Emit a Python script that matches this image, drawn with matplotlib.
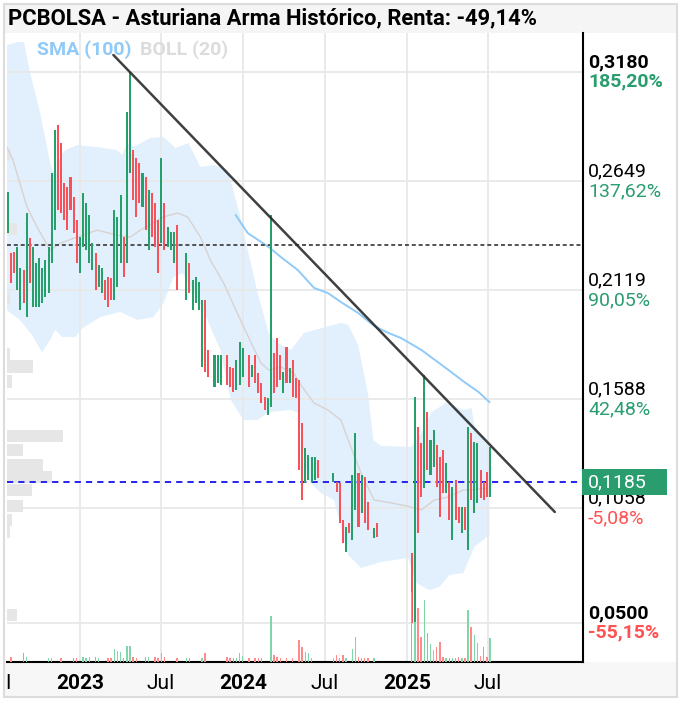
import matplotlib
matplotlib.use("Agg")

import matplotlib.dates as mdates
import matplotlib.pyplot as plt
import numpy as np
import pandas as pd
from matplotlib.patches import Rectangle
from matplotlib.transforms import Bbox, TransformedBbox

plt.rcParams["font.family"] = ["Roboto", "DejaVu Sans"]

TITLE = "PCBOLSA - Asturiana Arma Histórico, Renta: -49,14%"
START = pd.Timestamp("2022-07-24")
XLIM = ["2022-07-22", "2026-01-30"]
YLIM = [0.0310, 0.3370]

# weekly candles: week offset from START
WEEK = [
    0, 1, 2, 3, 4, 5, 6, 7, 8, 9, 10, 11, 12, 13, 14, 15, 16, 17, 18, 19,
    20, 21, 22, 23, 24, 25, 26, 27, 28, 29, 30, 31, 32, 33, 34, 35, 36, 37, 38, 39,
    40, 41, 42, 43, 44, 45, 46, 47, 48, 49, 50, 51, 52, 53, 54,
    57, 58, 59, 60, 61, 62, 63, 64, 66, 67, 68, 70, 71, 72, 73, 74, 75,
    77, 78, 79, 80, 81, 82, 83, 84, 85, 86, 87, 88, 89, 90, 91, 92, 93, 94, 95, 96, 97, 98, 99,
    104, 105, 106, 107, 108, 109, 110, 111, 112, 113, 114, 115, 117, 118,
    129, 130, 131, 132, 133, 134, 135, 136, 137, 138, 139, 140, 141, 142, 143, 144, 145,
    146, 147, 148, 149, 150, 151, 152, 153, 154,
]
HIGH = [
    .2596, .2299, .2304, .2329, .2227, .2217, .2494, .2372, .2329, .2251, .2275, .2227, .2265, .2329, .2689, .2898, .2922, .2834, .2640, .2620,
    .2669, .2572, .2460, .2377, .2591, .2543, .2484, .2348, .2299, .2241, .2227, .2168, .2183, .2178, .2509, .2475, .2582, .2377, .2985, .3180,
    .2800, .2762, .2737, .2689, .2669, .2606, .2591, .2543, .2460, .2762, .2543, .2426, .2402, .2402, .2436,
    .2299, .2251, .2168, .2183, .2158, .2071, .2071, .1828, .1803, .1803, .1803, .1803, .1745, .1740, .1779, .1867, .1837,
    .1803, .1755, .1803, .1716, .1667, .1599, .1594, .2484, .1813, .1886, .1803, .1721, .1842, .1740, .1779, .1691, .1682, .1473, .1351, .1317, .1307, .1307, .1293,
    .1229, .1186, .1181, .1001, .0967, .0986, .1220, .1424, .1229, .1220, .1210, .1088, .0962, .0986,
    .0840, .1599, .1453, .1375, .1706, .1526, .1390, .1439, .1366, .1307, .1341, .1278, .1186, .1161, .1195, .1064, .1064,
    .1064, .1453, .1424, .1380, .1375, .1244, .1186, .1234, .1356,
]
LOW = [
    .2397, .2154, .2202, .2120, .2022, .2056, .1988, .2154, .2037, .2037, .2037, .2056, .2085, .2105, .2251, .2411, .2509, .2494, .2460, .2411,
    .2509, .2397, .2251, .2202, .2329, .2314, .2251, .2217, .2120, .2134, .2105, .2071, .2037, .2071, .2071, .2134, .2251, .2183, .2251, .2689,
    .2557, .2475, .2543, .2523, .2411, .2314, .2377, .2329, .2202, .2348, .2314, .2329, .2314, .2251, .2120,
    .2071, .2105, .2022, .2056, .2022, .1745, .1721, .1696, .1648, .1667, .1657, .1657, .1648, .1623, .1633, .1657, .1696,
    .1648, .1696, .1667, .1619, .1570, .1536, .1512, .1550, .1619, .1648, .1682, .1619, .1667, .1667, .1599, .1594, .1244, .1098, .1181, .1195, .1186, .1195, .1205,
    .1186, .1137, .0986, .0889, .0845, .0938, .0904, .1049, .0967, .1035, .0986, .0952, .0913, .0918,
    .0500, .0500, .0938, .1113, .1156, .1244, .1220, .1259, .1161, .1015, .1132, .1132, .1001, .0904, .1001, .0986, .0938,
    .0952, .0855, .1098, .1035, .1084, .1108, .1098, .1113, .1113,
]
UP = [
    1, 0, 0, 1, 1, 0, 1, 0, 1, 1, 1, 1, 1, 1, 1, 1, 0, 0, 0, 0,
    0, 0, 0, 1, 1, 1, 1, 1, 0, 1, 1, 0, 0, 0, 1, 1, 1, 0, 1, 1,
    0, 0, 0, 1, 0, 1, 0, 0, 0, 1, 0, 1, 1, 1, 0,
    1, 0, 1, 1, 1, 1, 0, 0, 1, 1, 1, 0, 0, 0, 1, 1, 1,
    0, 1, 0, 0, 0, 0, 1, 1, 0, 0, 0, 1, 0, 1, 0, 0, 0, 0, 1, 1, 1, 1, 0,
    1, 0, 0, 0, 1, 0, 1, 1, 0, 1, 0, 0, 1, 0,
    0, 1, 0, 0, 1, 0, 1, 1, 0, 0, 0, 1, 0, 1, 0, 0, 1,
    0, 1, 0, 1, 1, 0, 0, 0, 1,
]
VOLUME = [
    0, 5, 0, 0, 0, 9, 5, 0, 0, 0, 0, 0, 0, 4, 4, 0, 0, 4, 0, 0,
    0, 4, 4, 0, 5, 4, 5, 0, 5, 4, 0, 0, 4, 4, 13, 11, 10, 4, 16, 16,
    5, 4, 0, 0, 5, 5, 0, 5, 4, 9, 5, 0, 0, 0, 4,
    4, 4, 0, 0, 0, 4, 9, 0, 0, 0, 0, 5, 4, 4, 4, 9, 6,
    4, 0, 4, 4, 4, 0, 0, 46, 7, 5, 4, 0, 4, 0, 4, 0, 22, 15, 10, 9, 4, 0, 0,
    4, 7, 4, 7, 4, 0, 13, 25, 5, 4, 4, 4, 4, 0,
    70, 40, 54, 25, 62, 29, 18, 12, 15, 20, 5, 4, 4, 4, 4, 5, 4,
    4, 52, 35, 27, 19, 6, 15, 5, 24,
]
LAST_PRICE = 0.1185

# Bollinger (20) band edges and middle, SMA (100)
UPPER_WEEK = [-0.3, 3.2, 5.1, 7.1, 10.3, 13.5, 15.1, 16.7, 18.3, 22.1, 28.5, 34.9, 36.5, 38.1, 40.1, 45.5,
              49.7, 53.5, 57.7, 61.5, 65.7, 70.2, 73.7, 76.6, 79.8, 83.3, 86.2, 90.4, 94.6, 106.4, 108.7,
              111.9, 115.1, 116.7, 119.2, 128.8, 132.1, 135.3, 140.1, 145.5, 148.1, 149.0, 151.9, 153.8]
UPPER = [.3311, .3326, .3326, .3175, .2981, .2738, .2669, .2767, .2800, .2825, .2815, .2800, .2776, .2835, .2815, .2859,
         .2864, .2811, .2835, .2718, .2728, .2704, .2509, .2314, .2105, .1911, .1862, .1828, .1911, .1960, .1950,
         .1852, .1609, .1390, .1361, .1356, .1424, .1526, .1570, .1536, .1546, .1463, .1390, .1356]
LOWER_WEEK = [-0.3, 3.8, 7.7, 10.9, 13.5, 15.1, 17.3, 21.5, 24.0, 29.5, 35.9, 41.3, 46.5, 49.7, 52.9, 55.8,
              58.3, 62.5, 64.7, 67.9, 71.2, 75.3, 79.8, 83.3, 90.4, 92.9, 95.8, 100.0, 104.2, 106.4, 108.7,
              112.8, 119.2, 127.9, 130.4, 134.6, 137.8, 141.0, 145.5, 149.0, 153.8]
LOWER = [.2022, .1974, .1901, .1818, .1876, .1925, .1891, .1891, .1935, .1988, .2013, .1974, .1988, .2056, .2183, .2202,
         .2134, .2022, .1939, .1828, .1585, .1487, .1487, .1526, .1536, .1521, .1196, .1132, .1098, .0967, .0831,
         .0767, .0797, .0816, .0695, .0660, .0675, .0733, .0743, .0870, .0928]
MID_WEEK = [-0.3, 1.6, 6.1, 9.3, 13.5, 16.7, 22.1, 28.5, 34.9, 39.1, 42.3, 49.7, 54.2, 57.4, 61.5, 64.7, 68.9,
            72.1, 75.3, 80.8, 83.3, 87.2, 91.3, 93.6, 97.8, 102.2, 106.4, 108.7, 112.8, 117.0, 122.4, 128.8,
            132.1, 136.2, 140.7, 145.5, 148.1, 153.8]
MID = [.2815, .2752, .2524, .2426, .2314, .2348, .2377, .2411, .2387, .2377, .2411, .2475, .2494, .2475, .2377, .2265, .2154,
       .2047, .1940, .1765, .1731, .1745, .1716, .1657, .1570, .1536, .1487, .1390, .1229, .1098, .1084, .1064,
       .1050, .1098, .1113, .1147, .1147, .1157]
SMA_WEEK = [72.8, 76.6, 83.3, 87.2, 92.6, 97.8, 102.2, 106.4, 111.9, 117.0, 121.5, 125.6, 132.1, 140.7, 145.8, 150.3, 153.8]
SMA = [.2484, .2397, .2329, .2280, .2217, .2130, .2105, .2061, .2008, .1945, .1911, .1886, .1828, .1731, .1672, .1624, .1575]

TREND_WEEK = [33.7, 174.7]
TREND_PRICE = [0.3263, 0.1040]
RESIST_PRICE = 0.2337

# volume-by-price profile on the left
PROFILE_PRICE = [.2776, .2416, .2081, .1809, .1746, .1673, .1410, .1341, .1268, .1210, .1147, .1069, .1001, .0943, .0539]
PROFILE_VOL = [.05, .18, .05, .05, .46, .09, 1.0, .29, .64, .80, .45, .29, .09, .05, .18]

PRICE_TICKS = [0.3180, 0.2649, 0.2119, 0.1588, 0.1058, 0.0500]
PRICE_LABELS = ["0,3180", "0,2649", "0,2119", "0,1588", "0,1058", "0,0500"]
PCT_LABELS = ["185,20%", "137,62%", "90,05%", "42,48%", "-5,08%", "-55,15%"]
XTICK_DATES = ["2022-07-01", "2023-01-01", "2023-07-01", "2024-01-01", "2024-07-01", "2025-01-01", "2025-07-01"]
XTICK_LABELS = ["Jul", "2023", "Jul", "2024", "Jul", "2025", "Jul"]

GREEN = "#26a06a"
RED = "#f5525a"
PCT_GREEN = "#2a9d6f"
PCT_RED = "#ff5252"
GRID = "#e8e8e8"


def week_to_num(weeks):
    return mdates.date2num(START + pd.to_timedelta(np.asarray(weeks, dtype=float) * 7, unit="D"))


def main() -> None:
    W, H = 681, 701
    fig = plt.figure(figsize=(W / 100, H / 100), dpi=100)
    fig.patch.set_facecolor("white")

    # background bands and frame (kept below the axes)
    fig.patches.append(Rectangle((5 / W, 1 - 33 / H), 671 / W, 28 / H, transform=fig.transFigure,
                                 facecolor="#f5f5f5", edgecolor="none", zorder=-2))
    fig.patches.append(Rectangle((5 / W, 5 / H), 671 / W, 34 / H, transform=fig.transFigure,
                                 facecolor="#f7f7f7", edgecolor="none", zorder=-2))
    fig.patches.append(Rectangle((4 / W, 4 / H), 673 / W, 693 / H, transform=fig.transFigure,
                                 fill=False, edgecolor="#dcdcdc", linewidth=1.5, zorder=-1))

    ax = fig.add_axes([7 / W, 39 / H, 576 / W, 629 / H])
    ax.set_facecolor("white")
    xlim = mdates.date2num(pd.to_datetime(XLIM))
    ax.set_xlim(xlim)
    ax.set_ylim(YLIM)

    # grid
    for tick in PRICE_TICKS:
        ax.axhline(tick, color=GRID, linewidth=1.3, zorder=1)
    for d in mdates.date2num(pd.to_datetime(XTICK_DATES[1:])):
        ax.axvline(d, color=GRID, linewidth=1.3, zorder=1)

    # bollinger band
    band_x = np.concatenate([week_to_num(UPPER_WEEK), week_to_num(LOWER_WEEK)[::-1]])
    band_y = np.concatenate([UPPER, LOWER[::-1]])
    ax.fill(band_x, band_y, color="#e1f0fc", linewidth=0, zorder=0.5)
    ax.plot(week_to_num(MID_WEEK), MID, color="#d8d2d2", linewidth=1.0, zorder=2)
    ax.plot(week_to_num(SMA_WEEK), SMA, color="#90caf9", linewidth=1.4, zorder=2)

    # volume profile
    ax.barh(PROFILE_PRICE, np.asarray(PROFILE_VOL) * 0.097, height=0.0062, left=0,
            color="#e6e6e6", transform=ax.get_yaxis_transform(), zorder=1.5)

    # reference lines
    ax.axhline(RESIST_PRICE, color="#444444", linewidth=1.3, linestyle=(0, (2.2, 1.6)), zorder=3)
    ax.axhline(LAST_PRICE, color="#2424f0", linewidth=1.4, linestyle=(0, (3.2, 2.6)), zorder=3)

    # candles
    x = week_to_num(WEEK)
    high = np.asarray(HIGH)
    low = np.asarray(LOW)
    colors = [GREEN if u else RED for u in UP]
    ax.bar(x, high - low, bottom=low, width=4.6, color=colors, linewidth=0, zorder=4)

    # volume bars
    ax2 = ax.twinx()
    ax2.set_ylim(0, 629)
    vol_colors = ["#7fd6a8" if u else "#ff8a8a" for u in UP]
    ax2.bar(x, VOLUME, width=3.2, color=vol_colors, linewidth=0, zorder=3)
    ax2.set_yticks([])
    for s in ax2.spines.values():
        s.set_visible(False)

    # trend line
    ax.plot(week_to_num(TREND_WEEK), TREND_PRICE, color="#2b2b2b", linewidth=1.8, alpha=0.9,
            zorder=5, solid_capstyle="round")

    # spines
    for side in ["top", "left"]:
        ax.spines[side].set_visible(False)
    ax.spines["right"].set_color("black")
    ax.spines["right"].set_linewidth(1.5)
    ax.spines["bottom"].set_color("black")
    ax.spines["bottom"].set_linewidth(1.5)
    ax.set_xticks([])
    ax.set_yticks([])

    # right price labels
    ytr = ax.get_yaxis_transform()
    last = len(PRICE_TICKS) - 1
    for i, (tick, plabel, pct) in enumerate(zip(PRICE_TICKS, PRICE_LABELS, PCT_LABELS)):
        weight = "bold" if i in (0, last) else "normal"
        ax.text(1.0087, tick + 0.0004, plabel, transform=ytr, ha="left", va="bottom",
                fontsize=14, fontweight=weight, color="black", clip_on=False)
        ax.text(1.0087, tick - 0.0004, pct, transform=ytr, ha="left", va="top",
                fontsize=14, fontweight=weight, color=PCT_RED if pct.startswith("-") else PCT_GREEN,
                clip_on=False)

    # current price box
    ax.add_patch(Rectangle((0.998, LAST_PRICE - 0.0063), 0.1475, 0.0126, transform=ytr,
                           facecolor=PCT_GREEN, edgecolor="none", clip_on=False, zorder=6))
    ax.text(1.0087, LAST_PRICE, f"{LAST_PRICE:.4f}".replace(".", ","), transform=ytr, ha="left",
            va="center", fontsize=14, color="white", clip_on=False, zorder=7)

    # x labels (the first one is cut at the plot's left edge, as in the source)
    xtr = ax.get_xaxis_transform()
    clip = TransformedBbox(Bbox([[0, -0.2], [1, 0]]), ax.transAxes)
    for d, label in zip(mdates.date2num(pd.to_datetime(XTICK_DATES)), XTICK_LABELS):
        weight = "bold" if label.isdigit() else "normal"
        t = ax.text(d, -0.0334, label, transform=xtr, ha="center", va="center",
                    fontsize=15, fontweight=weight, color="black")
        t.set_clip_path(None)
        t.set_clip_box(clip)
        t.set_clip_on(True)

    # title and legend
    fig.text(8 / W, 1 - 18 / H, TITLE, fontsize=15.8, fontweight="bold", va="center", ha="left")
    fig.text(37 / W, 1 - 50 / H, "SMA (100)", fontsize=14, fontweight="bold", color="#90caf9",
             va="center", ha="left")
    fig.text(140 / W, 1 - 50 / H, "BOLL (20)", fontsize=14, fontweight="bold", color="#dcdcdc",
             va="center", ha="left")

    fig.savefig("out.png", dpi=100)
    plt.close(fig)


if __name__ == "__main__":
    main()
